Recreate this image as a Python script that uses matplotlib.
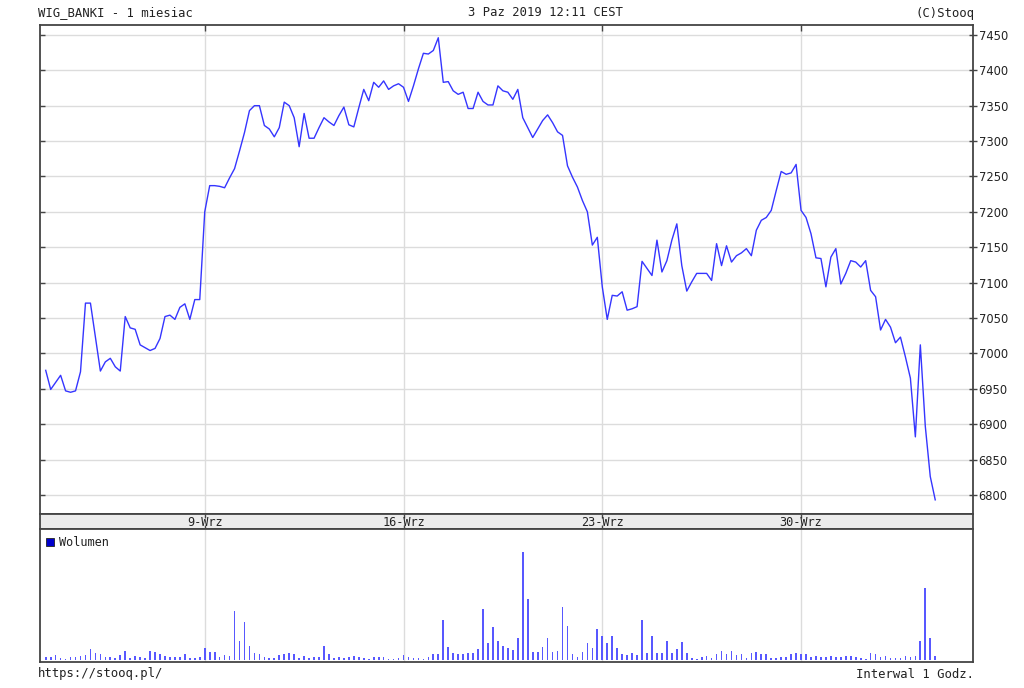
import matplotlib
matplotlib.use("Agg")
import matplotlib.pyplot as plt
import matplotlib.transforms as mtransforms
from matplotlib.patches import Rectangle

# ---------------- data ----------------
days = ["03-Wrz", "04-Wrz", "05-Wrz", "06-Wrz",
        "09-Wrz", "10-Wrz", "11-Wrz", "12-Wrz", "13-Wrz",
        "16-Wrz", "17-Wrz", "18-Wrz", "19-Wrz", "20-Wrz",
        "23-Wrz", "24-Wrz", "25-Wrz", "26-Wrz", "27-Wrz",
        "30-Wrz", "01-Paz", "02-Paz", "03-Paz"]
bars_per_day = [8] * 22 + [4]
week_labels = ["9-Wrz", "16-Wrz", "23-Wrz", "30-Wrz"]
week_days = ["09-Wrz", "16-Wrz", "23-Wrz", "30-Wrz"]

price = [6976, 6949, 6959, 6969, 6947, 6945, 6947, 6974,
         7071, 7071, 7023, 6975, 6988, 6993, 6981, 6975,
         7052, 7036, 7034, 7012, 7008, 7004, 7007, 7021,
         7052, 7054, 7048, 7065, 7070, 7048, 7076, 7076,
         7200, 7237, 7237, 7236, 7234, 7248, 7261, 7286,
         7312, 7343, 7350, 7350, 7322, 7317, 7306, 7319,
         7355, 7350, 7333, 7292, 7339, 7304, 7304, 7319,
         7333, 7327, 7322, 7336, 7348, 7323, 7320, 7347,
         7373, 7357, 7383, 7376, 7385, 7373, 7378, 7381,
         7376, 7356, 7378, 7402, 7424, 7423, 7428, 7446,
         7383, 7384, 7371, 7366, 7369, 7346, 7346, 7369,
         7356, 7351, 7351, 7378, 7371, 7369, 7359, 7373,
         7333, 7319, 7305, 7317, 7329, 7337, 7326, 7313,
         7308, 7265, 7249, 7235, 7216, 7200, 7153, 7164,
         7094, 7048, 7082, 7081, 7087, 7061, 7063, 7066,
         7130, 7120, 7110, 7160, 7115, 7131, 7160, 7183,
         7124, 7088, 7101, 7113, 7113, 7113, 7103, 7155,
         7124, 7152, 7129, 7138, 7142, 7148, 7138, 7174,
         7188, 7192, 7202, 7230, 7257, 7253, 7255, 7267,
         7202, 7192, 7169, 7135, 7134, 7094, 7136, 7148,
         7098, 7113, 7131, 7129, 7122, 7131, 7089, 7080,
         7033, 7048, 7037, 7015, 7023, 6995, 6965, 6882,
         7012, 6897, 6826, 6793]

volume = [8, 10, 14, 5, 3, 8, 10, 13,
          14, 32, 20, 17, 8, 10, 7, 14,
          28, 6, 13, 8, 7, 28, 25, 17,
          11, 10, 10, 10, 17, 7, 7, 10,
          35, 25, 25, 10, 16, 13, 146, 58,
          113, 42, 20, 17, 10, 7, 7, 16,
          17, 20, 17, 7, 13, 7, 10, 10,
          42, 17, 7, 10, 7, 10, 13, 10,
          5, 3, 8, 10, 10, 3, 2, 6,
          14, 8, 7, 7, 2, 10, 17, 17,
          120, 40, 20, 17, 17, 20, 20, 32,
          153, 50, 98, 58, 43, 37, 30, 65,
          322, 182, 25, 25, 40, 65, 25, 28,
          160, 102, 17, 10, 25, 50, 35, 92,
          73, 50, 73, 35, 17, 15, 20, 15,
          120, 20, 73, 20, 20, 58, 20, 32,
          55, 20, 7, 3, 10, 13, 7, 17,
          28, 17, 28, 14, 17, 7, 20, 25,
          17, 17, 7, 7, 10, 10, 17, 20,
          17, 17, 10, 13, 10, 10, 13, 10,
          10, 13, 13, 10, 7, 3, 20, 17,
          10, 13, 7, 7, 7, 13, 10, 13,
          58, 215, 65, 13]

price_ticks = [6800, 6850, 6900, 6950, 7000, 7050, 7100, 7150,
               7200, 7250, 7300, 7350, 7400, 7450]

# ---------------- derived positions ----------------
day_start = {}
pos = 0
for d, n in zip(days, bars_per_day):
    day_start[d] = pos
    pos += n
x = list(range(len(price)))
week_pos = [day_start[d] for d in week_days]

# ---------------- figure ----------------
W, H = 1024, 688
fig = plt.figure(figsize=(W / 100, H / 100), dpi=100)
fig.patch.set_facecolor("white")

L, R = 40, 973
def rect(top, bottom):
    return [L / W, (H - bottom) / H, (R - L) / W, (bottom - top) / H]

ax = fig.add_axes(rect(25, 514))
axb = fig.add_axes(rect(514, 529))
axv = fig.add_axes(rect(529, 662))

xlim = (-1.15, 186.6)
spine_c = "#444444"
grid_c = "#dcdcdc"
txt_c = "#222222"
mono = "DejaVu Sans Mono"

for a in (ax, axb, axv):
    a.set_xlim(*xlim)
    for s in a.spines.values():
        s.set_color(spine_c)
        s.set_linewidth(1.3)
    a.set_facecolor("white")

# price panel
ax.set_ylim(6773, 7464)
for v in price_ticks:
    ax.axhline(v, color=grid_c, lw=1.0, zorder=0)
for p in week_pos:
    ax.axvline(p, color=grid_c, lw=1.0, zorder=0)
ax.plot(x, price, color="#3535ff", lw=1.0, zorder=3)
ax.yaxis.tick_right()
ax.set_yticks(price_ticks)
ax.set_yticklabels([str(v) for v in price_ticks], fontsize=8.3,
                   color=txt_c, family="DejaVu Sans")
ax.tick_params(axis="y", which="both", right=True, left=False,
               direction="inout", length=6, width=1, color=spine_c, pad=1)
# inward tick marks on the left spine
left_tr = mtransforms.blended_transform_factory(ax.transAxes, ax.transData)
tick_w = 4.5 / (R - L)
for v in price_ticks:
    ax.plot([0, tick_w], [v, v], transform=left_tr, color=spine_c,
            lw=1.0, zorder=4, solid_capstyle="butt")
ax.set_xticks(week_pos)
ax.set_xticklabels([])
ax.tick_params(axis="x", top=True, bottom=False, direction="in",
               length=4, width=1, color=spine_c)

# date band
axb.set_facecolor("#ececec")
axb.set_ylim(0, 1)
axb.set_yticks([])
axb.set_xticks(week_pos)
axb.set_xticklabels([])
axb.tick_params(axis="x", top=True, bottom=True, direction="in",
                length=3, width=1, color=spine_c)
for p, lab in zip(week_pos, week_labels):
    axb.text(p, 0.45, lab, ha="center", va="center", fontsize=8.6,
             family=mono, color=txt_c)

# volume panel
axv.set_ylim(-6, 392)
for p in week_pos:
    axv.axvline(p, color=grid_c, lw=1.0, zorder=0)
axv.bar(x, volume, width=0.34, color="#5858ff", zorder=3, linewidth=0)
axv.set_yticks([])
axv.set_xticks([])
axv.add_patch(Rectangle((6 / (R - L), 1 - 17 / 133), 8 / (R - L), 8 / 133,
                        transform=axv.transAxes, facecolor="#0000cc",
                        edgecolor="#222222", lw=0.6, zorder=5))
axv.text(19 / (R - L), 1 - 13 / 133, "Wolumen", transform=axv.transAxes,
         fontsize=8.6, family=mono, color=txt_c, va="center", ha="left")

# header / footer texts
fig.text(38 / W, 1 - 13 / H, "WIG_BANKI - 1 miesiac", fontsize=8.8,
         family=mono, color=txt_c, va="center", ha="left")
fig.text(545 / W, 1 - 13 / H, "3 Paz 2019 12:11 CEST", fontsize=8.8,
         family=mono, color=txt_c, va="center", ha="center")
fig.text(974 / W, 1 - 13 / H, "(C)Stooq", fontsize=8.8,
         family=mono, color=txt_c, va="center", ha="right")
fig.text(38 / W, 1 - 674 / H, "https://stooq.pl/", fontsize=8.8,
         family=mono, color=txt_c, va="center", ha="left")
fig.text(974 / W, 1 - 674 / H, "Interwal 1 Godz.", fontsize=8.8,
         family=mono, color=txt_c, va="center", ha="right")

fig.savefig("out.png", dpi=100, facecolor="white")
